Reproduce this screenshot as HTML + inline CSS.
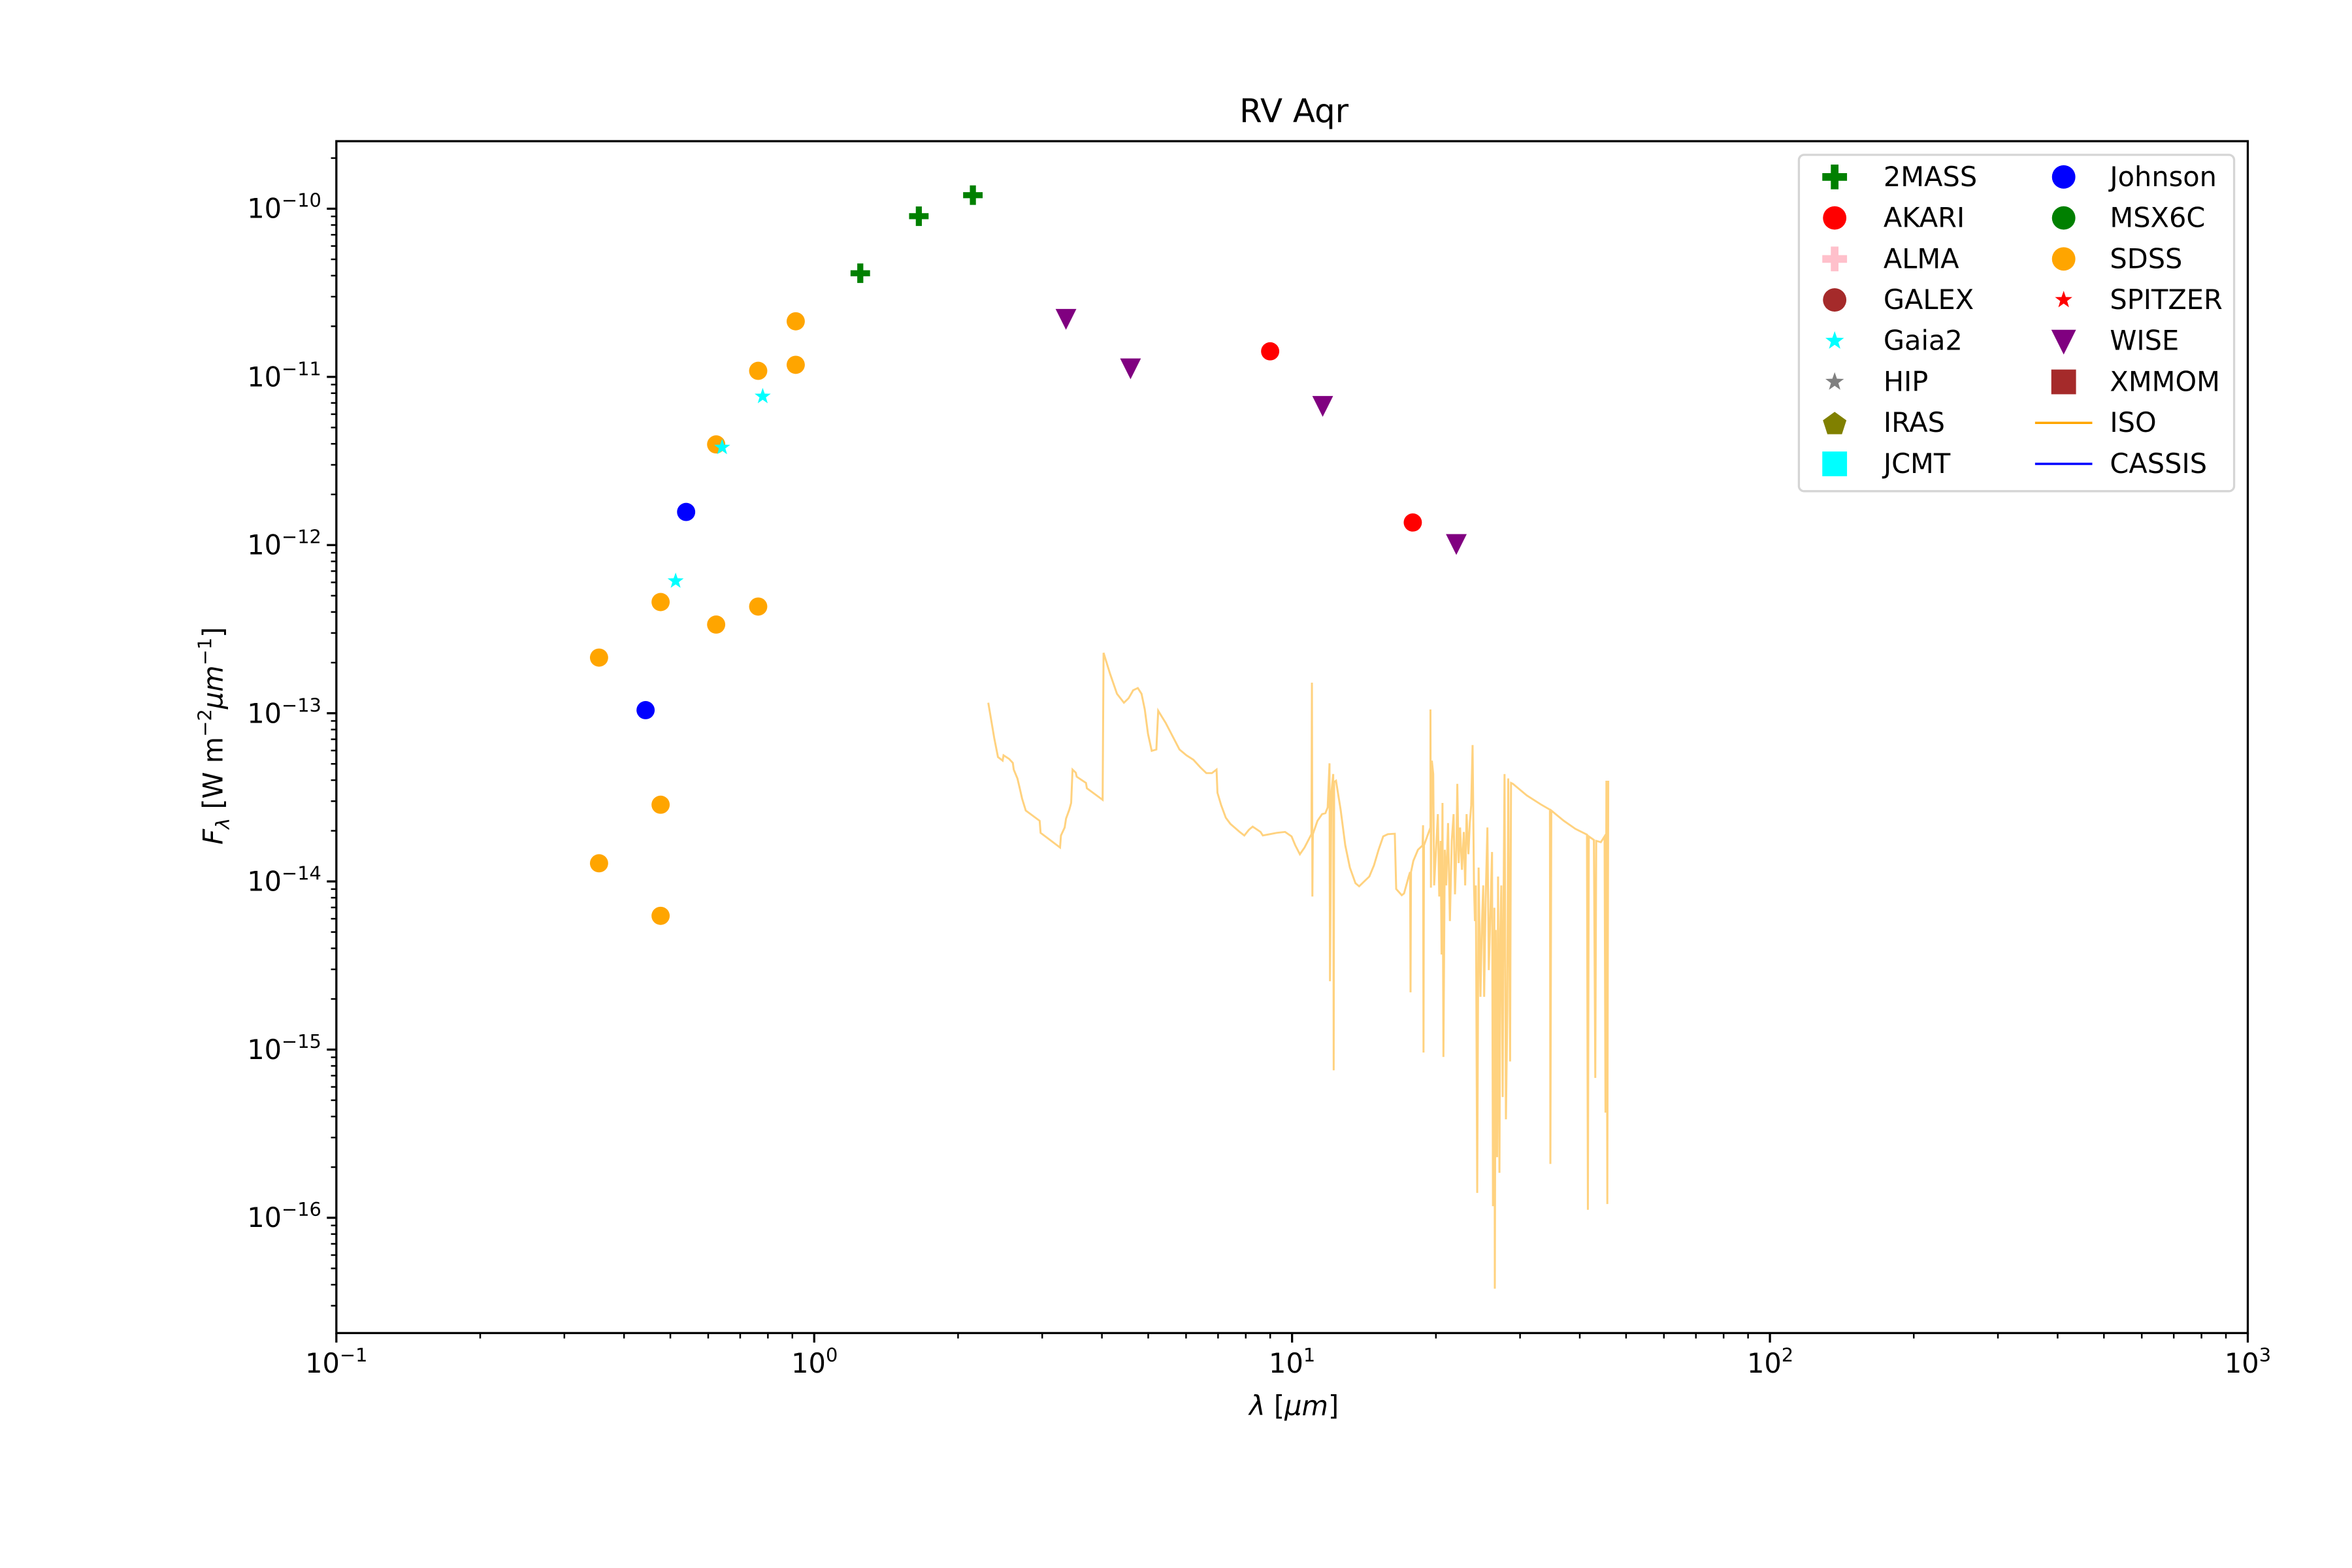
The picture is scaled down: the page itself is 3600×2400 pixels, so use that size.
<!DOCTYPE html>
<html><head><meta charset="utf-8"><style>
html,body{margin:0;padding:0;background:#fff;}
svg{display:block;font-family:"DejaVu Sans","Liberation Sans",sans-serif;}
</style></head><body>
<svg id="s" width="3600" height="2400" viewBox="0 0 3600 2400" xmlns="http://www.w3.org/2000/svg">
<rect width="3600" height="2400" fill="#fff"/>
<g transform="scale(0.9958)">
<text x="1989" y="188" font-size="50" text-anchor="middle">RV Aqr</text>

<!-- ISO spectrum -->
<g transform="translate(1450,950) scale(0.7117,0.6849)" fill="none" stroke="#ffa500" stroke-opacity="0.5" stroke-width="4.2" stroke-linejoin="miter">
<polyline points="97,190 110,270 118,312 128,320 130,308 142,316 150,325 152,340 160,360 165,382 170,405 178,432 208,455 210,482 252,515 254,488 262,470 265,450 272,430 276,415 279,340 286,347 288,356 308,370 310,382 344,408 346,78 360,125 375,170 390,190 400,180 410,162 420,157 428,170 435,205 442,260 450,298 460,295 464,208 480,235 495,265 510,295 525,308 540,318 555,335 568,348 580,348 590,340 592,392 600,420 610,448 620,462 640,480 650,488 660,475 668,468 685,480 690,488 705,485 720,482 738,480 752,490 760,510 770,530 780,515 795,485 796,145 797,625 798,485 808,455 818,440 825,438 830,425 834,326 835,815 838,392 842,350 843,1015 844,368 848,365 858,430 868,510 878,560 890,595 898,602 910,590 920,580 930,555 940,520 950,490 960,485 975,484 978,608 990,622 995,618 1005,580 1008,570 1009,840 1010,570 1015,545 1025,520 1035,510 1036,465 1037,975 1038,510 1045,490 1052,470 1052,205 1053,605 1055,320 1058,350 1060,600 1064,520 1068,440 1071,625 1074,500 1076,755 1078,415 1080,985 1083,520 1086,600 1090,460 1094,680 1098,500 1102,440 1105,620 1108,520 1110,372 1113,550 1116,470 1120,565 1124,480 1127,600 1130,440 1134,530 1137,460 1140,420 1143,285 1146,600 1148,680 1150,600 1153,1290 1156,560 1160,850 1163,690 1166,600 1168,850 1171,640 1175,470 1178,790 1182,640 1185,525 1187,1320 1190,650 1191,1505 1193,700 1196,1210 1198,580 1201,1245 1203,700 1205,600 1208,1075 1210,620 1212,350 1215,1125 1218,880 1220,360 1224,995 1226,370 1230,372 1260,398 1290,418 1310,430 1311,1225 1313,432 1340,455 1365,473 1390,486 1392,1328 1394,490 1405,498 1408,1032 1410,500 1420,503 1428,490 1430,1110 1432,365 1434,1315 1435,790 1436,365"/>
</g>

<rect x="517" y="217" width="2938" height="1832" fill="none" stroke="#000" stroke-width="3.3"/>
<g id="ticks" stroke="#000"></g>

<g font-size="41.7" text-anchor="end">
<text x="494" y="335">10<tspan font-size="29" dy="-17">−10</tspan></text>
<text x="494" y="594">10<tspan font-size="29" dy="-17">−11</tspan></text>
<text x="494" y="852">10<tspan font-size="29" dy="-17">−12</tspan></text>
<text x="494" y="1111">10<tspan font-size="29" dy="-17">−13</tspan></text>
<text x="494" y="1369">10<tspan font-size="29" dy="-17">−14</tspan></text>
<text x="494" y="1628">10<tspan font-size="29" dy="-17">−15</tspan></text>
<text x="494" y="1886">10<tspan font-size="29" dy="-17">−16</tspan></text>
</g>
<g font-size="41.7" text-anchor="middle">
<text x="517" y="2110">10<tspan font-size="29" dy="-17">−1</tspan></text>
<text x="1252" y="2110">10<tspan font-size="29" dy="-17">0</tspan></text>
<text x="1986" y="2110">10<tspan font-size="29" dy="-17">1</tspan></text>
<text x="2721" y="2110">10<tspan font-size="29" dy="-17">2</tspan></text>
<text x="3455" y="2110">10<tspan font-size="29" dy="-17">3</tspan></text>
</g>
<text x="1989" y="2175" font-size="41.7" text-anchor="middle"><tspan font-style="italic">λ</tspan> [<tspan font-style="italic">μm</tspan>]</text>
<text transform="translate(342,1131) rotate(-90)" font-size="41.7" text-anchor="middle"><tspan font-style="italic">F</tspan><tspan font-style="italic" font-size="29" dy="10">λ</tspan><tspan dy="-10"> [W m</tspan><tspan font-size="29" dy="-17">−2</tspan><tspan font-style="italic" dy="17">μm</tspan><tspan font-size="29" dy="-17">−1</tspan><tspan dy="17">]</tspan></text>

<g id="m"></g>

<rect x="2765" y="238" width="669" height="517" rx="8" fill="#fff" fill-opacity="0.8" stroke="#d5d5d5" stroke-width="3.3"/>
<g font-size="41.7">
<text x="2895" y="286">2MASS</text>
<text x="2895" y="349">AKARI</text>
<text x="2895" y="412">ALMA</text>
<text x="2895" y="475">GALEX</text>
<text x="2895" y="538">Gaia2</text>
<text x="2895" y="601">HIP</text>
<text x="2895" y="664">IRAS</text>
<text x="2895" y="727">JCMT</text>
<text x="3243" y="286">Johnson</text>
<text x="3243" y="349">MSX6C</text>
<text x="3243" y="412">SDSS</text>
<text x="3243" y="475">SPITZER</text>
<text x="3243" y="538">WISE</text>
<text x="3243" y="601">XMMOM</text>
<text x="3243" y="664">ISO</text>
<text x="3243" y="727">CASSIS</text>
</g>
<g id="lg"></g>
</g>
</svg>
<script>
var NS="http://www.w3.org/2000/svg";
function el(p,t,a){var e=document.createElementNS(NS,t);for(var k in a)e.setAttribute(k,a[k]);p.appendChild(e);return e;}
var T=document.getElementById("ticks");
var L=517,R=3455,TOP=217,B=2049;
function X(v){return L+734.5*(Math.log10(v)+1);}
function Y(v){return 320.8+258.5*(-10-Math.log10(v));}
for(var d=-1;d<=3;d++){for(var k=1;k<10;k++){var v=k*Math.pow(10,d);if(v>1000.001)break;var x=X(v);var maj=k==1;
 el(T,"line",{x1:x,x2:x,y1:B,y2:B+(maj?14.6:8.3),"stroke-width":maj?3.3:2.5});}}
for(var d=-17;d<=-9;d++){for(var k=1;k<10;k++){var v=k*Math.pow(10,d);var y=Y(v);if(y<TOP-1||y>B+1)continue;var maj=k==1;
 el(T,"line",{x1:L,x2:L-(maj?14.6:8.3),y1:y,y2:y,"stroke-width":maj?3.3:2.5});}}
var M=document.getElementById("m");var s=2.3077;
function circ(g,x,y,c,r){el(g,"circle",{cx:x,cy:y,r:r||14,fill:c});}
function plus(g,x,y,c,sz){sz=sz||15;el(g,"path",{d:"M"+(x-sz)+","+y+"H"+(x+sz)+"M"+x+","+(y-sz)+"V"+(y+sz),stroke:c,"stroke-width":sz*0.62,fill:"none"});}
function star(g,x,y,c,r){r=r||13;var p=[];for(var i=0;i<10;i++){var a=-Math.PI/2+i*Math.PI/5;var rr=i%2?r*0.4:r;p.push((x+rr*Math.cos(a)).toFixed(1)+","+(y+rr*Math.sin(a)).toFixed(1));}el(g,"polygon",{points:p.join(" "),fill:c});}
function tri(g,x,y,c,r){r=r||16;el(g,"polygon",{points:(x-r)+","+(y-r*0.9)+" "+(x+r)+","+(y-r*0.9)+" "+x+","+(y+r*1.1),fill:c});}
[[573,182],[612,144],[648,130]].forEach(function(p){plus(M,p[0]*s,p[1]*s,"green");});
[[530,214],[530,243],[505,247],[477,296],[440,401],[477,416],[505,404],[399,438],[440,536],[399,575],[440,610]].forEach(function(p){circ(M,p[0]*s,p[1]*s,"orange");});
[[457,341],[430,473]].forEach(function(p){circ(M,p[0]*s,p[1]*s,"blue");});
[[508,264],[481,298],[450,387]].forEach(function(p){star(M,p[0]*s,p[1]*s,"cyan");});
[[710,212],[753,245],[881,270],[970,362]].forEach(function(p){tri(M,p[0]*s,p[1]*s,"purple");});
[[846,234],[941,348]].forEach(function(p){circ(M,p[0]*s,p[1]*s,"red");});
var G=document.getElementById("lg");var c1=2820,c2=3172;function ry(i){return 272+63*i;}
plus(G,c1,ry(0),"green",19);circ(G,c1,ry(1),"red",18);plus(G,c1,ry(2),"pink",19);circ(G,c1,ry(3),"brown",18);
star(G,c1,ry(4),"cyan",15);star(G,c1,ry(5),"gray",15);
(function(){var x=c1,y=ry(6)+2,r=19,p=[];for(var i=0;i<5;i++){var a=-Math.PI/2+i*2*Math.PI/5;p.push((x+r*Math.cos(a))+","+(y+r*Math.sin(a)));}el(G,"polygon",{points:p.join(" "),fill:"olive"});})();
el(G,"rect",{x:c1-19,y:ry(7)-19,width:38,height:38,fill:"cyan"});
circ(G,c2,ry(0),"blue",18);circ(G,c2,ry(1),"green",18);circ(G,c2,ry(2),"orange",18);star(G,c2,ry(3),"red",14);tri(G,c2,ry(4),"purple",19);
el(G,"rect",{x:c2-19,y:ry(5)-19,width:38,height:38,fill:"brown"});
el(G,"line",{x1:c2-44,x2:c2+44,y1:ry(6),y2:ry(6),stroke:"orange","stroke-width":3.5});
el(G,"line",{x1:c2-44,x2:c2+44,y1:ry(7),y2:ry(7),stroke:"blue","stroke-width":3.5});
</script>
</body></html>
